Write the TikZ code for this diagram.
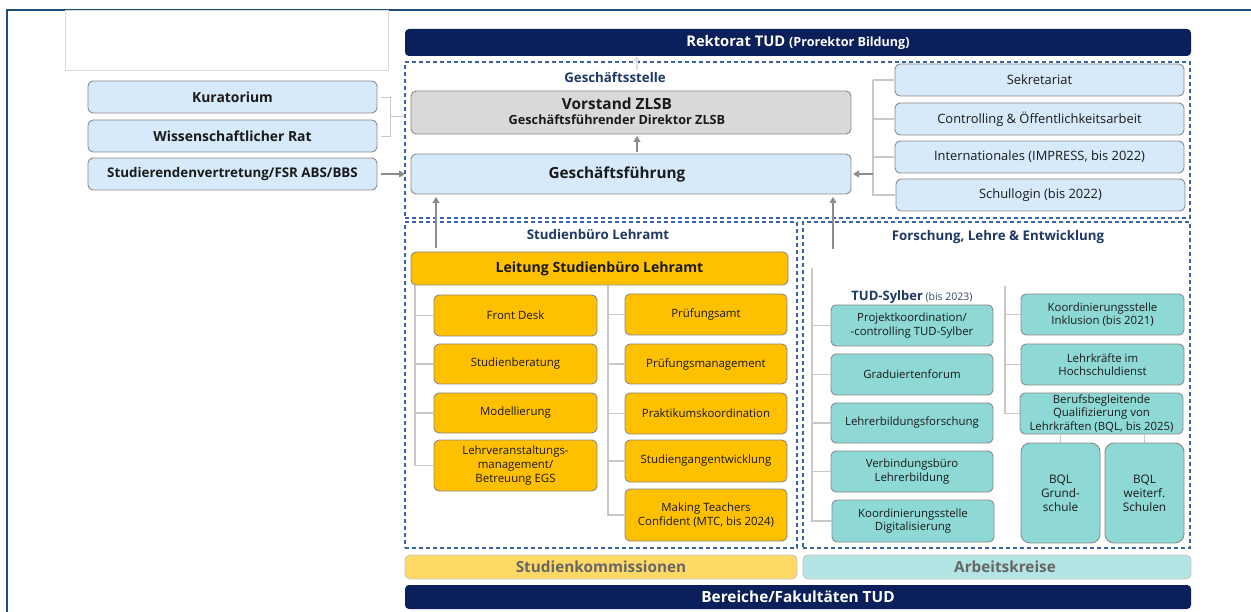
\documentclass[tikz,border=0pt]{standalone}
\usepackage{fontspec}
\setmainfont{Open Sans}
\usetikzlibrary{arrows.meta,calc}

\definecolor{navy}{HTML}{0B1F5B}
\definecolor{dashblue}{HTML}{3A63A8}
\definecolor{titleblue}{HTML}{1F3864}
\definecolor{lblue}{HTML}{D6EAFC}
\definecolor{zorange}{HTML}{FFC000}
\definecolor{zteal}{HTML}{8ED9D5}
\definecolor{zgray}{HTML}{D9D9D9}
\definecolor{bordergray}{HTML}{8A8A8A}
\definecolor{lyellow}{HTML}{FFD966}
\definecolor{lteal}{HTML}{B2E5E3}
\definecolor{treegray}{HTML}{C8C8C8}
\definecolor{arrgray}{HTML}{8C8C8C}
\definecolor{txt}{HTML}{1A1A1A}
\definecolor{framecol}{HTML}{1F4E79}

\newcommand\fsz[2]{\fontsize{#1}{#2}\selectfont}
% \place{name}{x1}{y1}{x2}{y2}{style}{text}: box given by its corners
\newcommand\place[7]{%
  \node[#6, minimum width={#4pt-#2pt}, minimum height={#5pt-#3pt}]
    (#1) at ({(#2+#4)/2},{(#3+#5)/2}) {#7};}

\tikzset{
  box/.style={draw=bordergray, line width=0.9pt, rounded corners=5pt,
    inner sep=0pt, outer sep=0pt, align=center, text=txt},
  bluebox/.style={box, fill=lblue},
  orangebox/.style={box, fill=zorange},
  tealbox/.style={box, fill=zteal},
  graybox/.style={box, fill=zgray},
  bar/.style={fill=navy, rounded corners=4pt, inner sep=0pt, outer sep=0pt,
    text=white, font=\bfseries\fsz{15.4}{18}},
  group/.style={draw=dashblue, line width=1.2pt, dash pattern=on 4pt off 3pt,
    inner sep=0pt, outer sep=0pt},
  grouptitle/.style={text=titleblue, font=\bfseries\fsz{13.3}{16}, inner sep=0pt},
  tree/.style={draw=treegray, line width=1.2pt},
  arr/.style={draw=arrgray, line width=1.1pt,
    -{Triangle[length=6pt,width=7pt]}},
  arrlight/.style={draw=treegray!60, line width=1.1pt,
    -{Triangle[length=5pt,width=6pt]}},
}

\begin{document}
\begin{tikzpicture}[x=1pt, y=-1pt]
\useasboundingbox (0,0) rectangle (1251,612);
\fill[white] (0,0) rectangle (1251,612);

% outer frame and empty field at the top left
\draw[framecol, line width=1.4pt] (7,620) -- (7,10) -- (1260,10);
\draw[zgray, line width=0.8pt, fill=white] (65,10) rectangle (388,70);

% top and bottom bars
\place{rek}{405}{29}{1191}{56}{bar, font=\bfseries\fsz{14.7}{17}}{Rektorat TUD {\fsz{12.6}{15}(Prorektor Bildung)}}
\place{fak}{405}{585}{1191}{609}{bar}{Bereiche/Fakultäten TUD}
\place{sk}{405}{555}{797}{579}{box, fill=lyellow, draw=treegray,
  font=\bfseries\fsz{15.3}{18}, text=black!60}{Studienkommissionen}
\place{ak}{803}{555}{1191}{579}{box, fill=lteal, draw=treegray,
  font=\bfseries\fsz{15.3}{18}, text=black!60}{\hspace*{16pt}Arbeitskreise}

% dashed groups
\place{gs}{405}{62}{1190}{218}{group}{}
\place{sbl}{405}{222}{797}{548}{group}{}
\place{fle}{803}{222}{1190}{548}{group}{}
\node[grouptitle] (gst) at (615,77) {Geschäftsstelle};
\node[grouptitle] (sbt) at (598,235) {Studienbüro Lehramt};
\node[grouptitle] (flt) at (998,237) {Forschung, Lehre \& Entwicklung};

% left column
\place{kur}{88}{81}{377}{113}{bluebox, font=\bfseries\fsz{13.9}{17}}{Kuratorium}
\place{wr}{88}{120}{377}{152}{bluebox, font=\bfseries\fsz{13.9}{17}}{Wissenschaftlicher Rat}
\place{sv}{88}{158}{377}{190}{bluebox, font=\bfseries\fsz{13.35}{16}}{Studierendenvertretung/FSR ABS/BBS}

% management (text sits a little left of the box centre)
\place{vz}{411}{91}{851}{134}{graybox, text depth=3pt}{{\bfseries\fsz{15.4}{17}Vorstand ZLSB}\hspace*{28pt}\\[2.5pt]{\bfseries\fsz{12.7}{14}Geschäftsführender Direktor ZLSB}\hspace*{28pt}}
\place{gf}{411}{154}{851}{194}{bluebox, font=\bfseries\fsz{15.3}{19}}{Geschäftsführung\hspace*{28pt}}

% staff units
\tikzset{staff/.style={bluebox, font=\fsz{12.9}{15}}}
\place{sek}{895}{64}{1184}{96}{staff}{Sekretariat}
\place{ctl}{895}{103}{1184}{135}{staff}{Controlling \& Öffentlichkeitsarbeit}
\place{int}{895}{141}{1184}{173}{staff}{Internationales (IMPRESS, bis 2022)}
\place{sch}{896}{179}{1185}{211}{staff}{Schullogin (bis 2022)}

% Studienbüro Lehramt
\place{lsb}{411}{252}{788}{285}{orangebox, font=\bfseries\fsz{14.1}{17}}{Leitung Studienbüro Lehramt}
\tikzset{ob/.style={orangebox, font=\fsz{11.45}{13.7}}}
\place{fd}{434}{295}{597}{336}{ob}{Front Desk}
\place{sb}{434}{344}{597}{384}{ob}{Studienberatung}
\place{mo}{434}{393}{597}{433}{ob}{Modellierung}
\place{lv}{434}{440}{597}{491}{ob}{Lehrveranstaltungs-\\management/\\Betreuung EGS}
\place{pa}{625}{294}{787}{335}{ob}{Prüfungsamt}
\place{pm}{625}{344}{787}{384}{ob}{Prüfungsmanagement}
\place{pk}{625}{393}{787}{434}{ob}{Praktikumskoordination}
\place{se}{625}{440}{787}{482}{ob}{Studiengangentwicklung}
\place{mtc}{625}{489}{787}{541}{ob}{Making Teachers\\Confident (MTC, bis 2024)}

% Forschung, Lehre & Entwicklung
\node[inner sep=0pt, anchor=base] (syl) at (912,301)
  {{\bfseries\fsz{13}{15}\color{titleblue}TUD-Sylber} {\fsz{10.5}{12}\color{titleblue!80!gray}(bis 2023)}};
\tikzset{tb/.style={tealbox, font=\fsz{11.4}{13.6}}}
\place{pkc}{831}{305}{993}{346}{tb}{Projektkoordination/\\-controlling TUD-Sylber}
\place{gr}{831}{354}{993}{395}{tb}{Graduiertenforum}
\place{lbf}{831}{403}{993}{443}{tb}{Lehrerbildungsforschung}
\place{vb}{831}{451}{993}{492}{tb}{Verbindungsbüro\\Lehrerbildung}
\place{kd}{832}{500}{994}{542}{tb}{Koordinierungsstelle\\Digitalisierung}
\place{ki}{1021}{294}{1184}{335}{tb}{Koordinierungsstelle\\Inklusion (bis 2021)}
\place{lk}{1021}{344}{1184}{385}{tb}{Lehrkräfte im\\Hochschuldienst}
\place{bb}{1020}{393}{1183}{434}{tealbox, font=\fsz{11.4}{13.3}}{Berufsbegleitende\\Qualifizierung von\\Lehrkräften (BQL, bis 2025)}
\place{bg}{1021}{443}{1100}{543}{tealbox, rounded corners=9pt, font=\fsz{11.8}{14}}{BQL\\Grund-\\schule}
\place{bw}{1105}{443}{1184}{543}{tealbox, rounded corners=9pt, font=\fsz{11.8}{14}}{BQL\\weiterf.\\Schulen}

% connectors: advisory bodies
\draw[tree, line width=0.9pt] ([xshift=4pt]kur.east) -- ++(9,0) |- ([xshift=4pt]wr.east);
\coordinate (brm) at ($(kur.east)!0.5!(wr.east)+(13,0)$);
\draw[tree, line width=0.9pt] (brm) -- (brm -| gs.west);
\draw[arr] ([xshift=4pt]sv.east) -- (sv.east -| gs.west);

% connectors: staff units
\coordinate (rs) at (873,80);
\draw[tree] (rs) |- ([xshift=-1pt]sek.west);
\draw[tree] (rs) |- ([xshift=-1pt]ctl.west);
\draw[tree] (rs) |- ([xshift=-1pt]int.west);
\draw[tree] (rs) |- ([xshift=-1pt]sch.west);
\draw[arr, shorten >=2pt] (rs |- gf.east) -- (gf.east);

% connectors: management
\coordinate (mx) at (637,0);
\draw[arr, shorten >=2pt, shorten <=2pt] (mx |- gf.north) -- (mx |- vz.south);
\draw[arrlight] (mx |- gs.north) ++(0,8) -- (mx |- rek.south);

% connectors: groups to Geschäftsführung
\coordinate (sbup) at (436,248);
\coordinate (flup) at (833,249);
\draw[arr, shorten >=3pt] (sbup) -- (sbup |- gf.south);
\draw[arr, shorten >=3pt] (flup) -- (flup |- gf.south);

% trees inside Studienbüro Lehramt
\coordinate (sl) at (415,285);
\coordinate (sr) at (608,285);
\foreach \b in {fd,sb,mo,lv} \draw[tree] (sl) |- (\b.west);
\foreach \b in {pa,pm,pk,se,mtc} \draw[tree] (sr) |- (\b.west);

% trees inside Forschung, Lehre & Entwicklung
\coordinate (fl) at (812,268);
\coordinate (fr) at (1005,286);
\foreach \b in {pkc,gr,lbf,vb,kd} \draw[tree] (fl) |- (\b.west);
\foreach \b in {ki,lk,bb} \draw[tree] (fr) |- (\b.west);
\draw[tree] (bg.north) -- (bg.north |- bb.south);
\draw[tree] (bw.north) -- (bw.north |- bb.south);
\end{tikzpicture}
\end{document}
